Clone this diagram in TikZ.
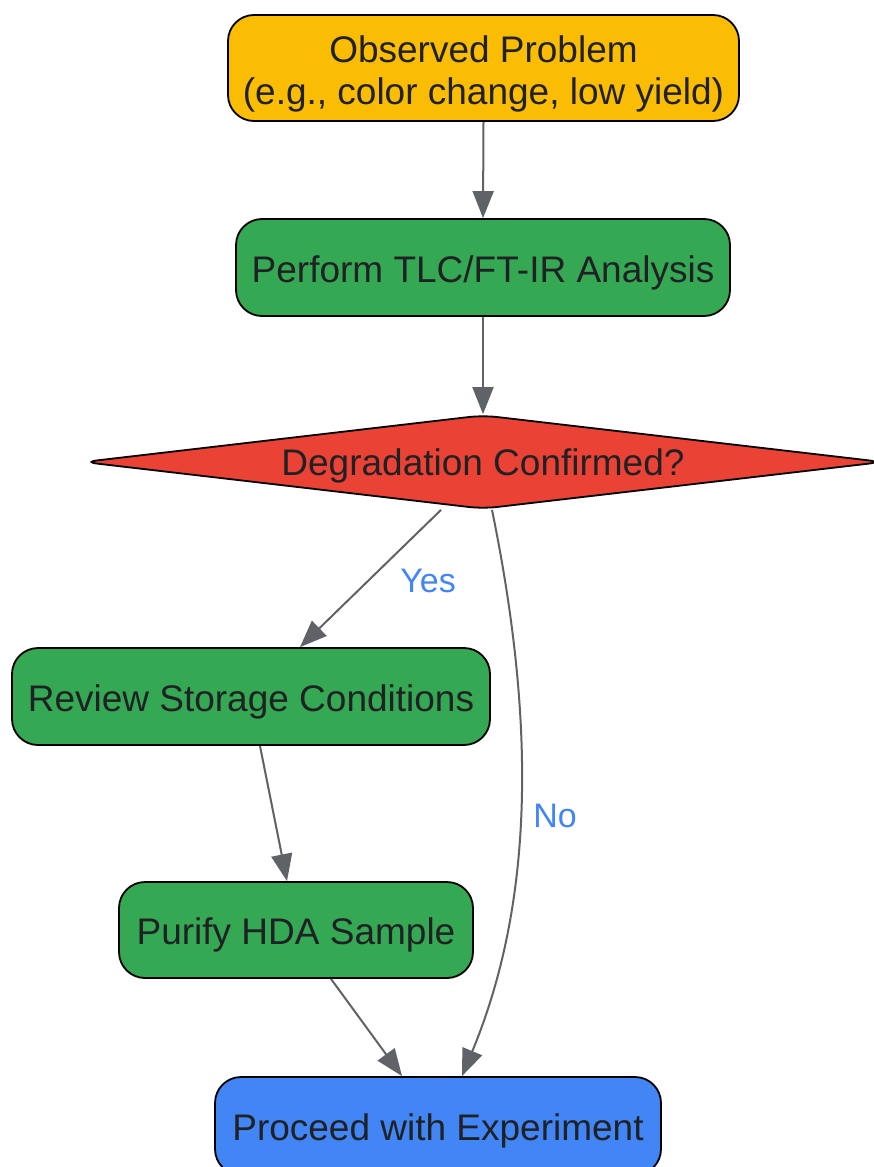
\documentclass[tikz,border=0pt]{standalone}
\usepackage{fontspec}
\setmainfont{Liberation Sans}
\usetikzlibrary{arrows.meta,shapes.geometric}
\definecolor{cyellow}{HTML}{FBBC04}
\definecolor{cgreen}{HTML}{34A853}
\definecolor{cred}{HTML}{EA4335}
\definecolor{cblue}{HTML}{4285F4}
\definecolor{cgray}{HTML}{5F6368}
\definecolor{ctext}{HTML}{202124}
\begin{document}
\begin{tikzpicture}[x=1pt,y=-1pt,
  box/.style={draw=black,line width=1.8pt,rounded corners=26pt,inner sep=0pt,align=center,
    text=ctext,font=\fontsize{37}{42}\selectfont,text height=37.6pt,text depth=8pt},
  dec/.style={draw=black,line width=1.8pt,diamond,aspect=8.5,rounded corners=14pt,inner sep=0pt,
    text=ctext,font=\fontsize{37}{42}\selectfont,fill=cred,text height=35.6pt,text depth=8pt},
  conn/.style={draw=cgray,line width=2pt,-{Triangle[length=27pt,width=21pt]}},
  lbl/.style={text=cblue,font=\fontsize{34}{40}\selectfont,inner sep=0pt}]
\useasboundingbox (0,0) rectangle (873,1167);
\node[box,fill=cyellow,minimum width=511pt,minimum height=106pt,text height=81.4pt,text depth=7.8pt] (obs) at (483.5,68)
  {Observed Problem\\(e.g., color change, low yield)};
\node[box,fill=cgreen,minimum width=494pt,minimum height=97pt] (tlc) at (483,267.5)
  {Perform TLC/FT-IR Analysis};
\node[dec,minimum width=800pt,minimum height=94pt] (dia) at (483,462)
  {Degradation Confirmed?};
\node[box,fill=cgreen,minimum width=478pt,minimum height=97pt] (rev) at (251,696.5)
  {Review Storage Conditions};
\node[box,fill=cgreen,minimum width=354pt,minimum height=96pt] (pur) at (296,930)
  {Purify HDA Sample};
\node[box,fill=cblue,minimum width=446pt,minimum height=98pt] (pro) at (438,1126)
  {Proceed with Experiment};
\draw[conn] (obs.south) -- (tlc.north);
\draw[conn] (tlc.south) -- (dia.north);
\draw[conn] ([xshift=-42pt]dia.south) -- ([xshift=49pt]rev.north);
\draw[conn] ([xshift=9pt]dia.south) .. controls (535,720) and (535,900) .. ([xshift=24pt]pro.north);
\draw[conn] ([xshift=9pt]rev.south) -- ([xshift=-9pt]pur.north);
\draw[conn] ([xshift=35pt]pur.south) -- ([xshift=-36pt]pro.north);
\node[lbl] (yes) at (428,581) {Yes};
\node[lbl] (no) at (555,816) {No};
\end{tikzpicture}
\end{document}
